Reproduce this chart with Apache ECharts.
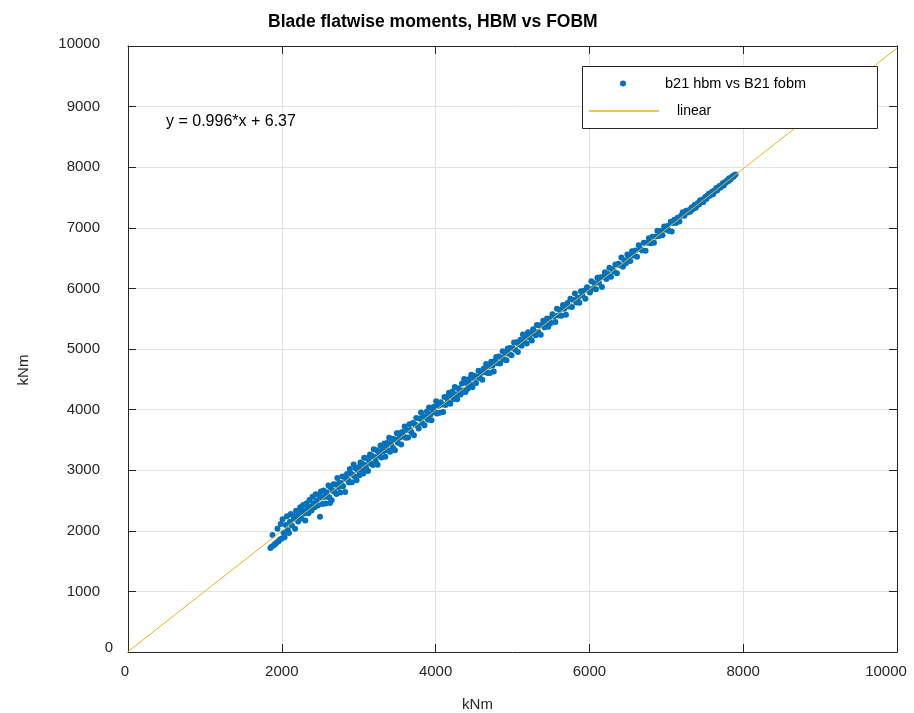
<!DOCTYPE html>
<html>
<head>
<meta charset="utf-8">
<script src="https://cdn.jsdelivr.net/npm/echarts@6/dist/echarts.min.js"></script>
<style>html,body{margin:0;padding:0;background:#fff;overflow:hidden}#c{width:914px;height:713px}</style>
</head>
<body>
<div id="c"></div>
<script>
const titleText = 'Blade flatwise moments, HBM vs FOBM';
const scatterName = 'b21 hbm vs B21 fobm';
const lineName = 'linear';
const fitText = 'y = 0.996*x + 6.37';
const axisName = 'kNm';
const xTicks = { min: 0, max: 10000, interval: 2000 };
const yTicks = { min: 0, max: 10000, interval: 1000 };
const fitLine = [[0, 6.37], [10000, 9966.37]];

const pointsLow = [
[1852,1718],[1868,1738],[1879,1931],[1896,1760],[1912,1784],[1931,1802],[1944,2035],[1959,1826],[1973,1851],[1986,2112],[1998,1874],[2011,2190],[2023,1968],[2036,1895],[2052,2094],[2067,2241],[2079,2010],[2093,1962],[2106,2150],[2118,2279],[2131,2088],[2147,2249],[2160,2198],[2172,2035],[2186,2331],[2199,2240],[2213,2152],[2225,2298],[2240,2388],[2252,2205],[2266,2330],[2279,2427],[2293,2284],[2305,2168],[2320,2452],[2333,2362],[2347,2290],[2360,2509],[2374,2402],[2388,2333],[2401,2561],[2414,2455],[2428,2388],[2442,2602],[2455,2497],[2470,2418],[2484,2585],[2497,2233],[2509,2648]
];
const pointsB = [
[2518,2548],[2531,2444],[2543,2666],[2556,2563],[2570,2450],[2581,2637],[2595,2567],[2607,2749],[2619,2550],[2627,2457],[2634,2717],[2648,2503],[2659,2659],[2673,2770],[2685,2643],[2698,2764],[2710,2609],[2722,2871],[2737,2724],[2749,2787],[2760,2634],[2774,2788],[2786,2898],[2797,2737],[2811,2890],[2823,2642],[2836,2858],[2848,2938],[2860,2843],[2873,2795],[2885,3018],[2898,2943],[2911,2802],[2922,2926],[2934,3092],[2947,2901],[2960,3031],[2972,2835],[2985,3002],[2997,3050],[3010,2916],[3023,3127],[3035,3010],[3047,3107],[3060,2946],[3072,3207],[3085,3082],[3097,3032],[3110,3196],[3121,2988],[3134,3159],[3147,3259],[3159,3108],[3171,3239],[3184,3086],[3196,3346],[3209,3217],[3221,3149],[3234,3329],[3246,3090],[3259,3300],[3271,3237],[3284,3407],[3296,3209],[3309,3371],[3321,3312],[3334,3440],[3346,3222],[3359,3392],[3371,3450],[3384,3324],[3396,3534],[3409,3303],[3421,3430],[3434,3520],[3446,3368],[3459,3509],[3471,3328],[3484,3501],[3496,3608]
];
const pointsC = [
[3508,3451],[3521,3608],[3537,3541],[3552,3423],[3566,3629],[3583,3559],[3597,3722],[3612,3537],[3628,3660],[3642,3540],[3659,3758],[3673,3664],[3688,3622],[3704,3778],[3718,3575],[3735,3755],[3749,3861],[3764,3733],[3780,3687],[3794,3852],[3811,3952],[3825,3778],[3840,3886],[3856,3742],[3870,3878],[3887,3970],[3901,3831],[3916,4033],[3932,3914],[3946,3825],[3963,4002],[3977,4047],[3992,3954],[4008,4137],[4022,3937],[4039,4064],[4053,3947],[4068,4120],[4084,4083],[4098,3959],[4115,4209],[4129,4076],[4144,4206],[4160,4133],[4174,4280],[4191,4096],[4205,4222],[4220,4299],[4236,4175],[4250,4372],[4267,4251],[4281,4171],[4296,4351],[4312,4322],[4326,4248],[4343,4432],[4357,4314],[4372,4505],[4388,4289],[4402,4438],[4418,4346],[4433,4501],[4449,4424],[4464,4574],[4479,4369],[4495,4520]
];
const pointsD = [
[4510,4555],[4526,4440],[4543,4544],[4558,4641],[4575,4521],[4591,4605],[4608,4493],[4624,4674],[4641,4622],[4657,4754],[4674,4603],[4690,4712],[4707,4606],[4723,4789],[4740,4729],[4756,4628],[4773,4807],[4789,4867],[4806,4766],[4822,4877],[4839,4762],[4855,4854],[4872,4963],[4888,4828],[4905,4931],[4921,4815],[4938,5009],[4954,4923],[4971,5015],[4987,4898],[5004,5012],[5020,5106],[5037,4988],[5053,5113],[5070,4949],[5086,5079],[5103,5152],[5119,5052],[5136,5240],[5152,5116],[5169,5200],[5185,5091],[5202,5275],[5218,5194],[5235,5253],[5251,5141],[5268,5326],[5284,5280],[5301,5226],[5317,5397],[5334,5282],[5350,5389],[5367,5234],[5383,5395],[5400,5467],[5416,5359],[5433,5433],[5449,5503],[5466,5368],[5482,5499]
];
const pointsE = [
[5500,5431],[5519,5573],[5539,5540],[5558,5445],[5578,5665],[5597,5551],[5617,5646],[5636,5548],[5656,5727],[5675,5663],[5695,5565],[5714,5758],[5734,5700],[5753,5831],[5773,5692],[5792,5808],[5812,5915],[5831,5769],[5851,5845],[5870,5765],[5890,5952],[5909,5884],[5929,5963],[5948,5829],[5968,6017],[5987,5992],[6007,5931],[6026,6117],[6046,5995],[6065,6087],[6085,5988],[6104,6177],[6124,6092],[6143,6182],[6163,6025],[6182,6192],[6202,6267],[6221,6155],[6241,6238],[6260,6340],[6280,6192],[6299,6317],[6319,6279],[6338,6393],[6358,6249],[6377,6406],[6397,6380],[6416,6510],[6436,6356],[6455,6463],[6475,6413],[6494,6558]
];
const pointsF = [
[6510,6526],[6532,6453],[6554,6614],[6576,6543],[6598,6626],[6620,6522],[6642,6713],[6664,6649],[6686,6624],[6708,6752],[6730,6620],[6752,6755],[6774,6826],[6796,6745],[6818,6852],[6840,6753],[6862,6855],[6884,6951],[6906,6866],[6928,6949],[6950,6876],[6972,7021],[6994,6968],[7016,7028],[7038,6946],[7058,7098],[7070,6937],[7082,7079],[7104,7133],[7126,7081],[7148,7166],[7170,7102],[7192,7198],[7214,7256],[7236,7200],[7258,7281],[7280,7251]
];
const pointsHigh = [
[7300,7293],[7314,7267],[7328,7334],[7342,7308],[7356,7343],[7370,7381],[7384,7332],[7398,7378],[7412,7411],[7426,7386],[7440,7455],[7454,7425],[7468,7463],[7482,7424],[7496,7480],[7510,7513],[7524,7481],[7538,7527],[7552,7560],[7566,7530],[7580,7557],[7594,7594],[7608,7555],[7622,7613],[7636,7605],[7650,7655],[7664,7619],[7678,7664],[7692,7689],[7706,7667],[7720,7702],[7734,7736],[7748,7699],[7762,7750],[7776,7749],[7790,7784],[7804,7770],[7818,7817],[7832,7791],[7846,7827],[7860,7850],[7874,7844],[7888,7873],[7900,7878]
];
const scatterData = [].concat(pointsLow, pointsB, pointsC, pointsD, pointsE, pointsF, pointsHigh);

const FONT = '"Liberation Sans", Arial, Helvetica, sans-serif';
const INK = '#262626';
const BLUE = '#0072BD';
const ORANGE = '#EDB120';
const TICK_FS = 15;

const chart = echarts.init(document.getElementById('c'), null, { renderer: 'canvas' });

const baseX = {
  type: 'value', min: xTicks.min, max: xTicks.max, interval: xTicks.interval,
  axisLine: { show: true, onZero: false, lineStyle: { color: INK, width: 1 } },
  axisTick: { show: true, inside: true, length: 8, lineStyle: { color: INK } }
};
const baseY = {
  type: 'value', min: yTicks.min, max: yTicks.max, interval: yTicks.interval,
  axisLine: { show: true, onZero: false, lineStyle: { color: INK, width: 1 } },
  axisTick: { show: true, inside: true, length: 8, lineStyle: { color: INK } }
};
function lbl(extra) {
  return Object.assign({ fontFamily: FONT, fontSize: TICK_FS, color: INK }, extra);
}

chart.setOption({
  animation: false,
  backgroundColor: '#fff',
  title: {
    text: titleText, left: 268, top: 13, padding: 0,
    textStyle: { fontFamily: FONT, fontWeight: 'bold', fontSize: 17.5, color: '#000' }
  },
  grid: { left: 128, top: 46, right: 17, bottom: 61, containLabel: false, outerBoundsMode: 'none' },
  xAxis: [
    Object.assign({}, baseX, {
      position: 'bottom',
      name: axisName, nameLocation: 'middle', nameGap: 45,
      nameTextStyle: { fontFamily: FONT, fontSize: 15, color: INK, padding: [0, 70, 0, 0] },
      axisLabel: {
        margin: 12, fontFamily: FONT, fontSize: TICK_FS, color: INK,
        formatter: function (v) {
          if (v === 0) return '{z|0}';
          if (v === 10000) return '{t|10000}';
          return '{n|' + v + '}';
        },
        rich: {
          n: lbl({}),
          z: lbl({ padding: [0, 6, 0, 0] }),
          t: lbl({ padding: [0, 22, 0, 0] })
        }
      },
      splitLine: { show: true, lineStyle: { color: '#e3e3e3', width: 1 } }
    }),
    Object.assign({}, baseX, {
      position: 'top', axisLabel: { show: false }, splitLine: { show: false }
    })
  ],
  yAxis: [
    Object.assign({}, baseY, {
      position: 'left',
      name: axisName, nameLocation: 'middle', nameGap: 97, nameRotate: 90,
      nameTextStyle: { fontFamily: FONT, fontSize: 15, color: INK, padding: [0, 42, 0, 0] },
      axisLabel: {
        margin: 15, fontFamily: FONT, fontSize: TICK_FS, color: INK,
        formatter: function (v) {
          if (v === 0) return '{z|0}';
          if (v === 10000) return '{t|10000}';
          return '{n|' + v + '}';
        },
        rich: {
          n: lbl({ padding: [0, 13, 0, 0] }),
          z: lbl({ padding: [0, 0, 8, 0] }),
          t: lbl({ padding: [0, 13, 4, 0] })
        }
      },
      splitLine: { show: true, lineStyle: { color: '#e3e3e3', width: 1 } }
    }),
    Object.assign({}, baseY, {
      position: 'right', axisLabel: { show: false }, splitLine: { show: false }
    })
  ],
  legend: [
    {
      left: 620, top: 76, padding: 0, itemWidth: 6, itemHeight: 6, selectedMode: false,
      data: [{ name: scatterName, icon: 'circle' }],
      textStyle: { fontFamily: FONT, fontSize: 14.5, color: '#000', padding: [0, 0, 6, 34] },
      z: 20
    },
    {
      left: 589, top: 104, padding: 0, itemWidth: 70, itemHeight: 1.5, selectedMode: false,
      data: [{ name: lineName, icon: 'rect' }],
      textStyle: { fontFamily: FONT, fontSize: 14, color: '#000', padding: [0, 0, 6, 13] },
      z: 20
    }
  ],
  graphic: [
    {
      type: 'rect', z: 10,
      shape: { x: 582.5, y: 66.5, width: 295, height: 62 },
      style: { fill: '#fff', stroke: INK, lineWidth: 1 }
    },
    {
      type: 'text', z: 10, left: 166, top: 114,
      style: { text: fitText, font: '16px ' + FONT, fill: '#000' }
    }
  ],
  series: [
    {
      name: scatterName, type: 'scatter', xAxisIndex: 0, yAxisIndex: 0,
      data: scatterData, symbol: 'circle', symbolSize: 6,
      itemStyle: { color: BLUE, opacity: 1 }, z: 2
    },
    {
      name: lineName, type: 'line', xAxisIndex: 0, yAxisIndex: 0,
      data: fitLine, showSymbol: false, symbol: 'none',
      lineStyle: { color: ORANGE, width: 1 }, itemStyle: { color: ORANGE }, z: 3
    }
  ]
});
</script>
</body>
</html>
